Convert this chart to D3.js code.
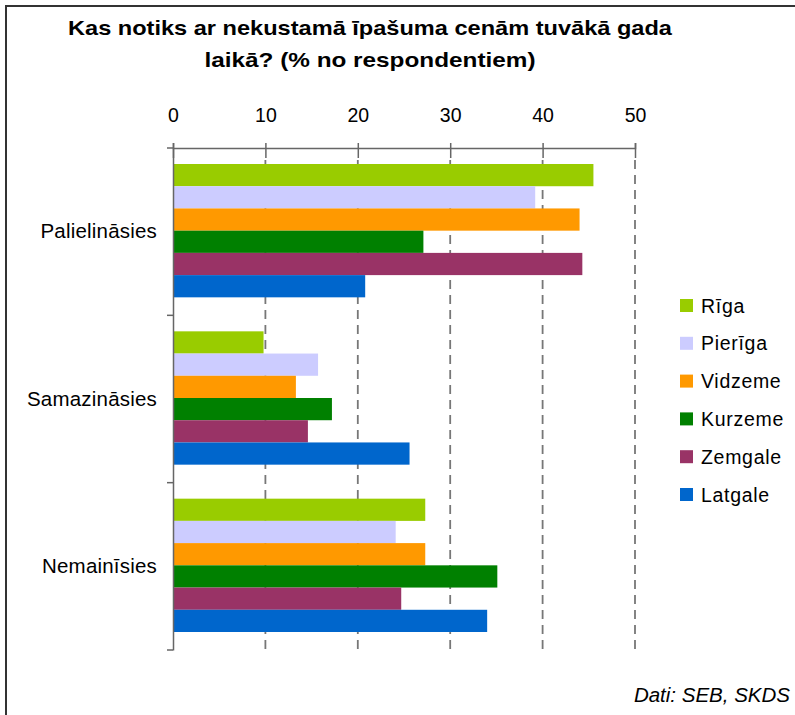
<!DOCTYPE html>
<html>
<head>
<meta charset="utf-8">
<script src="https://cdn.jsdelivr.net/npm/d3@7"></script>
<style>
  body { margin: 0; background: #fff; }
  svg { display: block; font-family: "Liberation Sans", Arial, sans-serif; }
</style>
</head>
<body>
<svg id="chart" width="795" height="715"></svg>
<script>
var categories = ["Palielināsies", "Samazināsies", "Nemainīsies"];
var regions = ["Rīga", "Pierīga", "Vidzeme", "Kurzeme", "Zemgale", "Latgale"];
var colors = ["#99CC00", "#CCCCFF", "#FF9900", "#008000", "#993366", "#0066CC"];
// values per region, in category order
var riga    = [45.5, 9.8, 27.3];
var pieriga = [39.2, 15.7, 24.1];
var vidzeme = [44.0, 13.3, 27.3];
var kurzeme = [27.1, 17.2, 35.1];
var zemgale = [44.3, 14.6, 24.7];
var latgale = [20.8, 25.6, 34.0];
var tickValues = [0, 10, 20, 30, 40, 50];
var titleLines = ["Kas notiks ar nekustamā īpašuma cenām tuvākā gada", "laikā? (% no respondentiem)"];
var sourceText = "Dati: SEB, SKDS";

var series = [riga, pieriga, vidzeme, kurzeme, zemgale, latgale];
var data = [];
categories.forEach(function(c, ci) {
  regions.forEach(function(r, ri) {
    data.push({ category: c, region: r, value: series[ri][ci] });
  });
});

var svg = d3.select("#chart");

// outer frame
svg.append("rect")
  .attr("x", 6).attr("y", 6)
  .attr("width", 820).attr("height", 740)
  .attr("fill", "none")
  .attr("stroke", "#333")
  .attr("stroke-width", 2);

// title (width matched to the original)
var titleWidths = [604, 331];
svg.append("g")
  .selectAll("text")
  .data(titleLines)
  .enter().append("text")
  .attr("x", 370)
  .attr("y", function(d, i) { return 35 + i * 32; })
  .attr("text-anchor", "middle")
  .attr("font-weight", "bold")
  .attr("font-size", "21px")
  .attr("textLength", function(d, i) { return titleWidths[i]; })
  .attr("lengthAdjust", "spacingAndGlyphs")
  .text(function(d) { return d; });

var plotTop = 148, plotBottom = 650;
var x = d3.scaleLinear().domain([0, 50]).range([173, 635]);
var y = d3.scaleBand().domain(categories).range([plotTop, plotBottom]);
var y1 = d3.scaleBand().domain(regions).range([16, y.bandwidth() - 18]);
var color = d3.scaleOrdinal().domain(regions).range(colors);

// dashed gridlines
svg.append("g")
  .selectAll("line")
  .data(tickValues.slice(1))
  .enter().append("line")
  .attr("x1", function(d) { return x(d); })
  .attr("x2", function(d) { return x(d); })
  .attr("y1", plotTop + 12)
  .attr("y2", plotBottom)
  .attr("stroke", "#777")
  .attr("stroke-width", 1.8)
  .attr("stroke-dasharray", "9,6");

// bars
svg.append("g")
  .selectAll("rect")
  .data(data)
  .enter().append("rect")
  .attr("x", x(0))
  .attr("y", function(d) { return y(d.category) + y1(d.region); })
  .attr("width", function(d) { return x(d.value) - x(0); })
  .attr("height", y1.bandwidth())
  .attr("fill", function(d) { return color(d.region); });

// top axis
var xAxis = svg.append("g")
  .attr("transform", "translate(0," + plotTop + ")")
  .call(d3.axisTop(x).tickValues(tickValues).tickSize(5).tickPadding(21));
xAxis.select(".domain").attr("stroke", "#666").attr("stroke-width", 1.5);
xAxis.selectAll(".tick line").attr("y1", 10).attr("stroke", "#666").attr("stroke-width", 1.5);
xAxis.selectAll(".tick text")
  .attr("font-size", "19.5px")
  .attr("font-family", "Liberation Sans, Arial, sans-serif")
  .attr("fill", "#000");

// left axis
var yAxis = svg.append("g")
  .attr("transform", "translate(" + x(0) + ",0)")
  .call(d3.axisLeft(y).tickSize(0).tickPadding(16));
yAxis.select(".domain").attr("stroke", "#666").attr("stroke-width", 1.5);
yAxis.selectAll(".tick text")
  .attr("font-size", "20.5px")
  .attr("letter-spacing", "0.2px")
  .attr("font-family", "Liberation Sans, Arial, sans-serif")
  .attr("fill", "#000");
// category boundary ticks
yAxis.append("g")
  .selectAll("line")
  .data(categories.concat(["end"]))
  .enter().append("line")
  .attr("x1", -6).attr("x2", 0)
  .attr("y1", function(d, i) { return i < categories.length ? y(d) : plotBottom; })
  .attr("y2", function(d, i) { return i < categories.length ? y(d) : plotBottom; })
  .attr("stroke", "#666")
  .attr("stroke-width", 1.5);

// legend
var legend = svg.append("g")
  .selectAll("g")
  .data(regions)
  .enter().append("g")
  .attr("transform", function(d, i) { return "translate(680," + (299 + i * 37.8) + ")"; });
legend.append("rect")
  .attr("width", 13).attr("height", 13)
  .attr("fill", function(d) { return color(d); });
legend.append("text")
  .attr("x", 21)
  .attr("y", 13.5)
  .attr("font-size", "19.5px")
  .attr("letter-spacing", "0.7px")
  .text(function(d) { return d; });

// source
svg.append("text")
  .attr("x", 790)
  .attr("y", 702)
  .attr("text-anchor", "end")
  .attr("font-style", "italic")
  .attr("font-size", "20.5px")
  .text(sourceText);
</script>
</body>
</html>
